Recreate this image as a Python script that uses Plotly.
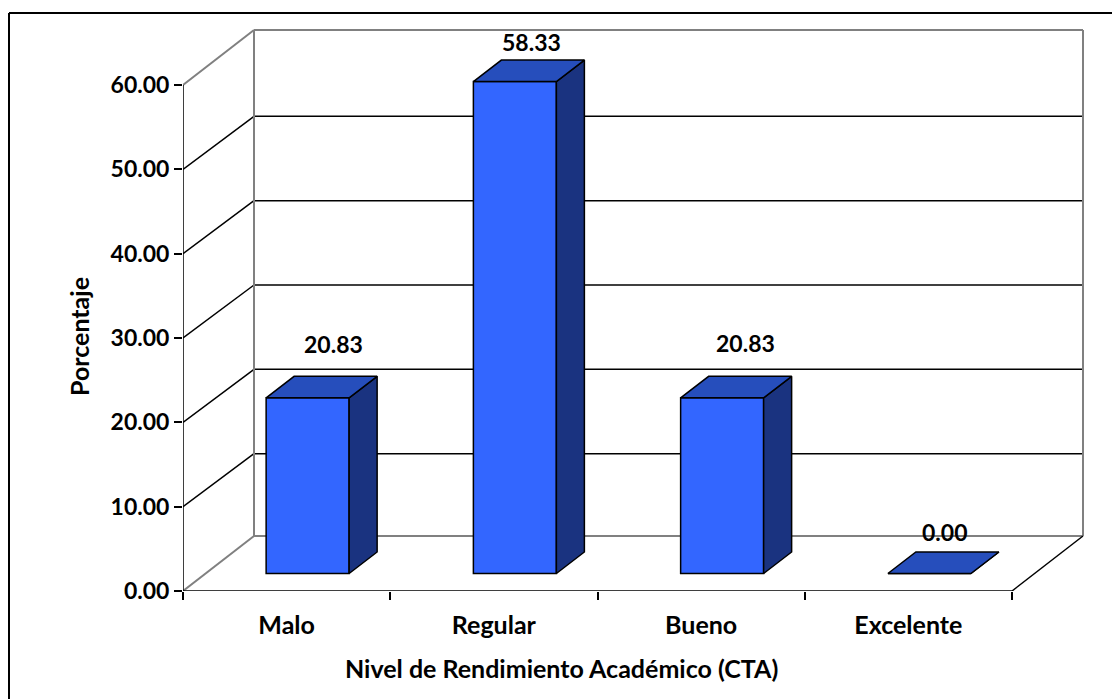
import plotly.graph_objects as go

categories = ["Malo", "Regular", "Bueno", "Excelente"]
values = [20.83, 58.33, 20.83, 0.00]
value_labels = ["20.83", "58.33", "20.83", "0.00"]
y_ticks = [0, 10, 20, 30, 40, 50, 60]
y_tick_labels = ["0.00", "10.00", "20.00", "30.00", "40.00", "50.00", "60.00"]
x_title = "Nivel de Rendimiento Académico (CTA)"
y_title = "Porcentaje"

# --- styling / geometry of the fake 3-D box (in axis units) ---
W, H = 1112, 699
PX_X = 207.25          # pixels per category
PX_Y = 506 / 60        # pixels per y unit
WALL_DX = 71 / PX_X    # depth of the box
WALL_DY = 55 / PX_Y
GRID_DY = 53 / PX_Y
BAR_SHIFT_X = 21 / PX_X
BAR_BASE = 17.5 / PX_Y
BAR_W = 83 / PX_X
BAR_DX = 28 / PX_X
BAR_DY = 21.5 / PX_Y
X0, X1 = -0.5, 3.5
Y_TOP = y_ticks[-1]
LABEL_XSHIFT = [47, 38, 44, 36]
LABEL_YSHIFT = [71, 57, 72, 59]
FONT = "Lato"
FRONT, TOP, SIDE = "#3366FF", "#264EBC", "#1A3380"
GREY = "#808080"

L, R, T, B = 183, 19, 20, 108
x_range = [X0, X1 + WALL_DX + 10 / PX_X]
y_range = [0, Y_TOP + WALL_DY + 10 / PX_Y]
plot_w, plot_h = W - L - R, H - T - B


def line(x0, y0, x1, y1, color="black", width=1.5):
    return dict(type="line", xref="x", yref="y", x0=x0, y0=y0, x1=x1, y1=y1,
                layer="below", line=dict(color=color, width=width))


shapes = []
for t in y_ticks[1:-1]:
    shapes.append(line(X0, t, X0 + WALL_DX, t + GRID_DY))
    shapes.append(line(X0 + WALL_DX, t + GRID_DY, X1 + WALL_DX, t + GRID_DY))
shapes += [
    line(X0, Y_TOP, X0 + WALL_DX, Y_TOP + WALL_DY, GREY, 2),
    line(X0 + WALL_DX, Y_TOP + WALL_DY, X1 + WALL_DX, Y_TOP + WALL_DY, GREY, 2),
    line(X0, 0, X0 + WALL_DX, WALL_DY, GREY, 2),
    line(X0 + WALL_DX, WALL_DY, X1 + WALL_DX, WALL_DY, GREY, 2),
    line(X0 + WALL_DX, WALL_DY, X0 + WALL_DX, Y_TOP + WALL_DY, GREY, 2),
    line(X1 + WALL_DX, WALL_DY, X1 + WALL_DX, Y_TOP + WALL_DY, GREY, 2),
    line(X1, 0, X1 + WALL_DX, WALL_DY),
]
# outer frame of the picture: left and top edges only
shapes += [
    dict(type="line", xref="paper", yref="paper",
         x0=(9 - L) / plot_w, x1=(W - L) / plot_w,
         y0=(H - B - 13) / plot_h, y1=(H - B - 13) / plot_h,
         line=dict(color="black", width=2)),
    dict(type="line", xref="paper", yref="paper",
         x0=(9 - L) / plot_w, x1=(9 - L) / plot_w,
         y0=(H - B - 13) / plot_h, y1=-B / plot_h,
         line=dict(color="black", width=2)),
]

xs = list(range(len(categories)))
bar_x = [x + BAR_SHIFT_X for x in xs]

fig = go.Figure()
fig.add_trace(go.Bar(
    x=bar_x, y=values, base=[BAR_BASE] * len(values), width=BAR_W,
    marker=dict(color=FRONT, line=dict(color="black", width=1.5)),
    showlegend=False, hoverinfo="skip",
))

top_x, top_y, side_x, side_y = [], [], [], []
for cx, v in zip(bar_x, values):
    a, b = cx - BAR_W / 2, cx + BAR_W / 2
    y0, y1 = BAR_BASE, BAR_BASE + v
    top_x += [a, b, b + BAR_DX, a + BAR_DX, a, None]
    top_y += [y1, y1, y1 + BAR_DY, y1 + BAR_DY, y1, None]
    side_x += [b, b + BAR_DX, b + BAR_DX, b, b, None]
    side_y += [y0, y0 + BAR_DY, y1 + BAR_DY, y1, y0, None]

for px, py, col in ((side_x, side_y, SIDE), (top_x, top_y, TOP)):
    fig.add_trace(go.Scatter(
        x=px, y=py, mode="lines", fill="toself", fillcolor=col,
        line=dict(color="black", width=1.5), showlegend=False, hoverinfo="skip",
    ))

# front axis lines
fig.add_trace(go.Scatter(
    x=[X0, X0, X1], y=[Y_TOP, 0, 0], mode="lines", cliponaxis=False,
    line=dict(color="black", width=1.5), showlegend=False, hoverinfo="skip",
))
# category labels live on a second x axis so ticks can sit between categories
fig.add_trace(go.Scatter(x=xs, y=[0] * len(xs), xaxis="x2", mode="markers",
                         marker=dict(opacity=0), showlegend=False, hoverinfo="skip"))

annotations = []
for x, v, lab, dx, dy in zip(xs, values, value_labels, LABEL_XSHIFT, LABEL_YSHIFT):
    annotations.append(dict(x=x, y=v, xref="x", yref="y", text=lab, showarrow=False,
                            xanchor="center", yanchor="middle", xshift=dx, yshift=dy,
                            font=dict(family=FONT, size=23, color="black", weight=700)))
annotations.append(dict(x=(561 - L) / plot_w, y=(H - B - 668) / plot_h, xref="paper", yref="paper",
                        text=x_title, showarrow=False, xanchor="center", yanchor="middle",
                        font=dict(family=FONT, size=25, color="black", weight=700)))
annotations.append(dict(x=(79 - L) / plot_w, y=(H - B - 337) / plot_h, xref="paper", yref="paper",
                        text=y_title, showarrow=False, textangle=-90,
                        xanchor="center", yanchor="middle",
                        font=dict(family=FONT, size=25, color="black", weight=700)))

fig.update_layout(
    width=W, height=H, autosize=False,
    margin=dict(l=L, r=R, t=T, b=B, pad=0),
    paper_bgcolor="white", plot_bgcolor="white",
    shapes=shapes, annotations=annotations, barmode="overlay",
    xaxis=dict(range=x_range, tickmode="array",
               tickvals=[X0 + i for i in range(len(categories) + 1)],
               ticktext=[""] * (len(categories) + 1),
               ticks="outside", ticklen=8, tickwidth=1.5, tickcolor="black",
               showgrid=False, zeroline=False, showline=False, fixedrange=True),
    xaxis2=dict(range=x_range, overlaying="x", side="bottom", anchor="y", tickmode="array",
                tickvals=xs, ticktext=categories,
                tickfont=dict(family=FONT, size=25, color="black", weight=700),
                ticks="outside", ticklen=12, tickcolor="rgba(0,0,0,0)",
                showgrid=False, zeroline=False, showline=False, fixedrange=True),
    yaxis=dict(range=y_range, tickmode="array", tickvals=y_ticks, ticktext=y_tick_labels,
               tickfont=dict(family=FONT, size=23, color="black", weight=700),
               ticks="outside", ticklen=8, tickwidth=1.5, tickcolor="black",
               showgrid=False, zeroline=False, showline=False, fixedrange=True),
)
fig.write_html("out.html", config={"displayModeBar": False},
               post_script="document.body.style.margin='0';")
